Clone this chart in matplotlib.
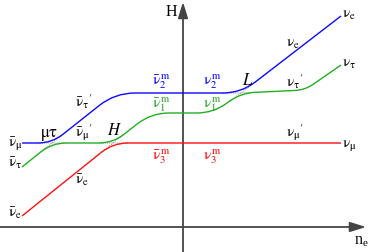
import matplotlib
matplotlib.use("Agg")
import matplotlib.pyplot as plt
import numpy as np
from matplotlib.path import Path
from matplotlib.patches import PathPatch

plt.rcParams["mathtext.fontset"] = "stix"
plt.rcParams["font.family"] = ["Liberation Serif", "DejaVu Serif"]

# Level curves as corner points (x grows with n_e, y in picture units, top = 0)
# and the rounding applied at each inner corner.
blue_x = [22, 52, 115, 241, 341]
blue_y = [144, 144, 94, 94, 17]
blue_r = [14, 20, 18]

green_x = [22, 52, 113, 151, 213, 241, 305, 341]
green_y = [168, 144, 144, 114, 114, 94, 91, 66]
green_r = [14, 14, 18, 16, 14, 10]

red_x = [22, 113, 341]
red_y = [217, 144, 144]
red_r = [15]

# level crossings: (curve, corner index) pairs drawn dotted without rounding
crossings = [
    [("blue", 1), ("green", 1)],   # mu-tau
    [("green", 2), ("red", 1)],    # H
    [("blue", 3), ("green", 5)],   # L
]

COLORS = {"blue": "#0a0aff", "green": "#20b020", "red": "#ff1010"}
TEXT_GREEN = "#20a020"

# label text, left x, baseline y, colour, size
labels = [
    (r"$\mathrm{\bar{\nu}_\mu}$", 8, 147, "black", 11),
    (r"$\mathrm{\bar{\nu}_\tau}$", 8, 167, "black", 11),
    (r"$\mathrm{\bar{\nu}_e}$", 8, 217, "black", 11),
    (r"$\mathrm{\mu\tau}$", 40, 137, "black", 12),
    (r"$\mathrm{\bar{\nu}_\tau{}'}$", 75, 107, "black", 11),
    (r"$\mathrm{\bar{\nu}_\mu{}'}$", 75, 137, "black", 11),
    (r"$H$", 107, 135, "black", 12),
    (r"$\mathrm{\bar{\nu}_e}$", 75, 184, "black", 11),
    (r"$\mathrm{\bar{\nu}_2^{\,m}}$", 152, 85, "blue", 11),
    (r"$\mathrm{\nu_2^{\,m}}$", 203, 85, "blue", 11),
    (r"$L$", 242, 85, "black", 12),
    (r"$\mathrm{\bar{\nu}_1^{\,m}}$", 152, 108, TEXT_GREEN, 11),
    (r"$\mathrm{\nu_1^{\,m}}$", 203, 108, TEXT_GREEN, 11),
    (r"$\mathrm{\bar{\nu}_3^{\,m}}$", 152, 160, "red", 11),
    (r"$\mathrm{\nu_3^{\,m}}$", 203, 160, "red", 11),
    (r"$\mathrm{\nu_e}$", 286, 47, "black", 11),
    (r"$\mathrm{\nu_\tau{}'}$", 286, 87, "black", 11),
    (r"$\mathrm{\nu_\mu{}'}$", 286, 137, "black", 11),
    (r"$\mathrm{\nu_e}$", 342, 18, "black", 11),
    (r"$\mathrm{\nu_\tau}$", 342, 67, "black", 11),
    (r"$\mathrm{\nu_\mu}$", 342, 147, "black", 11),
]


def rounded_path(xs, ys, radii):
    pts = np.column_stack([xs, ys]).astype(float)
    verts = [pts[0]]
    codes = [Path.MOVETO]
    for i in range(1, len(pts) - 1):
        v = pts[i]
        d_in = (v - pts[i - 1]) / np.linalg.norm(v - pts[i - 1])
        d_out = (pts[i + 1] - v) / np.linalg.norm(pts[i + 1] - v)
        r = radii[i - 1]
        verts += [v - r * d_in, v, v + r * d_out]
        codes += [Path.LINETO, Path.CURVE3, Path.CURVE3]
    verts.append(pts[-1])
    codes.append(Path.LINETO)
    return Path(verts, codes)


def main() -> None:
    fig = plt.figure(figsize=(3.68, 2.53), dpi=100)
    ax = fig.add_axes([0, 0, 1, 1])
    ax.set_xlim(0, 368)
    ax.set_ylim(253, 0)
    ax.axis("off")

    axis_col = "#444444"
    ax.annotate("", xy=(366, 228), xytext=(0, 228),
                arrowprops=dict(arrowstyle="-|>,head_length=0.8,head_width=0.25",
                                mutation_scale=12, color=axis_col, lw=1.3,
                                shrinkA=0, shrinkB=0))
    ax.annotate("", xy=(183, 3), xytext=(183, 253),
                arrowprops=dict(arrowstyle="-|>,head_length=0.8,head_width=0.25",
                                mutation_scale=12, color=axis_col, lw=1.3,
                                shrinkA=0, shrinkB=0))
    ax.text(166, 16, "H", fontsize=11.5, ha="left", va="baseline")
    ax.text(354, 245, r"$\mathregular{n_e}$", fontsize=11.5, ha="left", va="baseline")

    curves = {
        "blue": (blue_x, blue_y, blue_r),
        "green": (green_x, green_y, green_r),
        "red": (red_x, red_y, red_r),
    }

    # dotted sharp crossings underneath the rounded levels
    for pair in crossings:
        for name, idx in pair:
            xs, ys, radii = curves[name]
            p = np.array([xs[idx], ys[idx]], float)
            a = np.array([xs[idx - 1], ys[idx - 1]], float)
            b = np.array([xs[idx + 1], ys[idx + 1]], float)
            r = radii[idx - 1]
            d_in = (p - a) / np.linalg.norm(p - a)
            d_out = (b - p) / np.linalg.norm(b - p)
            seg = np.array([p - r * d_in, p, p + r * d_out])
            ax.plot(seg[:, 0], seg[:, 1], ls=(0, (1, 1.5)), lw=0.6,
                    color="#666666", zorder=2)

    for name, (xs, ys, radii) in curves.items():
        patch = PathPatch(rounded_path(xs, ys, radii), facecolor="none",
                          edgecolor=COLORS[name], lw=1.0, zorder=3,
                          capstyle="butt")
        ax.add_patch(patch)

    for text, x, y, col, size in labels:
        ax.text(x, y, text, color=col, fontsize=size, ha="left", va="baseline")

    fig.savefig("out.png", dpi=100)


if __name__ == "__main__":
    main()
